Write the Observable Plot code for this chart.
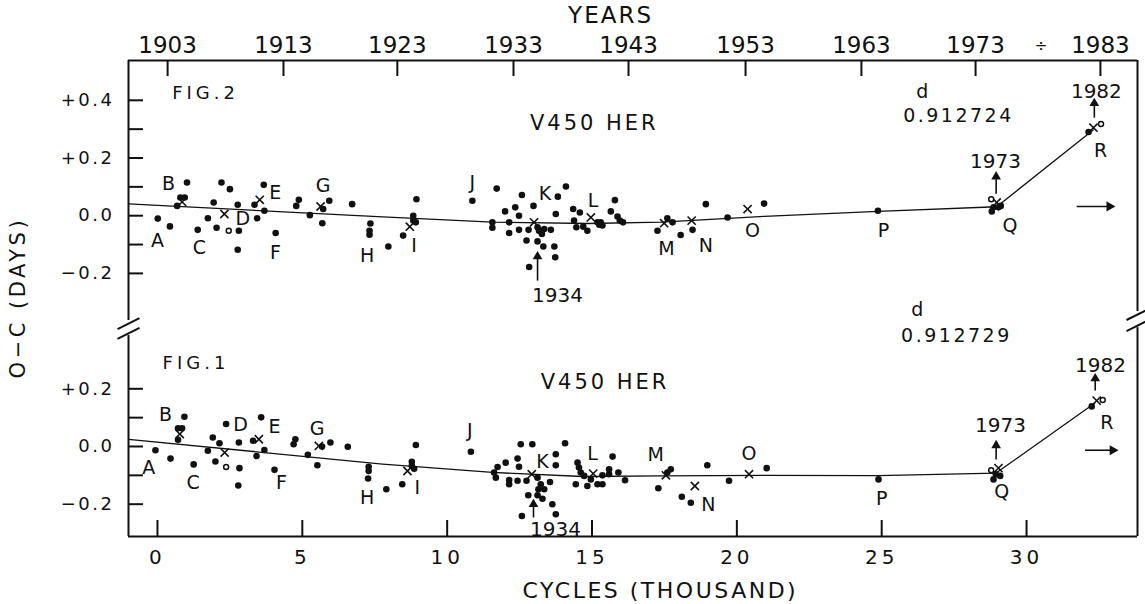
<!DOCTYPE html>
<html><head><meta charset="utf-8">
<script src="https://cdn.jsdelivr.net/npm/d3@7"></script>
<script src="https://cdn.jsdelivr.net/npm/@observablehq/plot@0.6"></script>
<style>
html,body{margin:0;padding:0;background:#fff;}
#chart svg{display:block;background:#fff;}
</style></head><body><div id="chart"></div>
<script>
// ---------- DATA (cycles in thousands, O-C in days) ----------
const OFFSET = 0.8; // Fig. 2 panel is drawn 0.8 units above Fig. 1 on the shared y scale

// Fig. 2 (P = 0.912724 d), upper panel
const fig2Dots = [[0.01,-0.01],[0.43,-0.037],[0.68,0.034],[0.79,0.063],[0.94,0.063],[1.02,0.115],[1.39,-0.049],[1.74,-0.009],[1.94,0.046],[2.04,-0.042],[2.21,0.115],[2.5,0.092],[2.77,0.038],[2.81,-0.052],[2.77,-0.118],[3.35,0.038],[3.44,-0.009],[3.67,0.107],[3.69,0.017],[4.08,-0.06],[4.79,0.034],[4.88,0.055],[5.26,0.002],[5.72,0.023],[5.93,0.052],[5.69,-0.026],[6.72,0.04],[7.35,-0.027],[7.32,-0.052],[7.32,-0.066],
[7.97,-0.107],[8.48,-0.069],[8.83,0.0],[8.83,-0.017],[8.92,-0.023],[8.94,0.057],[10.87,0.052],[11.71,0.094],[11.56,-0.023],[11.56,-0.042],[12.0,0.015],[12.14,-0.023],[12.14,-0.06],[12.35,0.029],[12.48,0.0],[12.48,-0.049],[12.58,0.072],[12.74,-0.086],[12.83,-0.178],[12.81,-0.049],[12.98,0.034],[13.12,-0.04],[13.17,-0.052],[13.12,-0.089],[13.27,-0.063],[13.32,-0.107],[13.35,-0.046],[13.58,-0.049],[13.7,-0.107],[13.73,-0.144],[13.75,0.006],[13.82,0.066],[14.1,0.101],
[14.35,0.023],[14.38,-0.017],[14.58,0.011],[14.46,-0.04],[14.7,-0.038],[14.84,-0.052],[15.19,-0.023],[15.3,-0.023],[15.36,-0.034],[15.25,-0.031],[15.65,0.015],[15.79,0.054],[15.88,-0.003],[15.96,-0.017],[16.07,-0.023],
[17.26,-0.052],[17.6,-0.009],[17.78,-0.023],[18.06,-0.067],[18.47,-0.049],[18.93,0.04],[19.68,-0.006],[20.94,0.042],[24.87,0.017],[28.8,0.015],[28.86,0.029],[29.03,0.029],[29.11,0.034],[32.14,0.29]];
const fig2Cross = [[0.85,0.048],[2.31,0.006],[3.53,0.055],[5.63,0.032],[8.71,-0.038],[13.0,-0.023],[14.96,-0.006],[17.49,-0.026],[18.44,-0.017],[20.37,0.023],[28.97,0.046],[32.31,0.305]];
const fig2Open = [[2.46,-0.052],[28.78,0.057],[32.57,0.318]];
const fig2Line = [[-1.0,0.041],[7.77,-0.004],[11.56,-0.022],[14.9,-0.027],[17.4,-0.022],[20.95,-0.002],[24.87,0.015],[28.97,0.031],[32.3,0.297]];
const fig2Letters = [["A",0.0,-0.087],["B",0.38,0.111],["C",1.45,-0.111],["D",2.95,-0.012],["E",4.07,0.08],["F",4.07,-0.128],["G",5.72,0.104],["H",7.24,-0.139],["I",8.86,-0.104],["J",10.87,0.115],["K",13.38,0.075],["L",15.04,0.052],["M",17.57,-0.114],["N",18.93,-0.104],["O",20.54,-0.052],["P",25.06,-0.052],["Q",29.43,-0.035],["R",32.56,0.225]];

// Fig. 1 (P = 0.912729 d), lower panel
const fig1Dots = [[-0.07,-0.013],[0.45,-0.042],[0.71,0.063],[0.85,0.063],[0.71,0.023],[0.93,0.103],[1.25,-0.062],[1.74,-0.015],[1.91,0.031],[2.0,-0.052],[2.14,0.011],[2.37,0.078],[2.81,0.014],[2.83,-0.075],[2.79,-0.135],[3.3,0.02],[3.42,-0.033],[3.58,0.101],[3.69,-0.012],[4.04,-0.081],[4.7,0.008],[4.76,0.025],[5.19,-0.029],[5.68,0.0],[5.97,0.014],[5.52,-0.065],[6.57,-0.001],[7.29,-0.07],[7.29,-0.085],[7.27,-0.111],
[7.9,-0.148],[8.45,-0.131],[8.78,-0.053],[8.78,-0.067],[8.86,-0.077],[8.92,0.005],[10.82,-0.018],[11.62,-0.09],[11.68,-0.108],[11.74,-0.071],[12.02,-0.056],[12.14,-0.116],[12.14,-0.131],[12.43,-0.042],[12.48,-0.07],[12.43,-0.119],[12.54,0.008],[12.74,-0.119],[12.94,0.008],[12.8,-0.169],[12.58,-0.241],[13.12,-0.108],[13.23,-0.131],[13.15,-0.148],[13.35,-0.148],[13.29,-0.181],[13.12,-0.169],[13.55,-0.123],[13.63,-0.2],[13.75,-0.235],[13.75,-0.027],[13.75,-0.065],[14.07,0.011],
[14.5,-0.056],[14.55,-0.073],[14.44,-0.131],[14.61,-0.09],[14.73,-0.102],[14.84,-0.137],[14.96,-0.114],[15.19,-0.131],[15.36,-0.131],[15.36,-0.1],[15.59,-0.096],[15.59,-0.079],[15.71,-0.035],[15.91,-0.09],[16.14,-0.117],
[17.29,-0.145],[17.72,-0.079],[17.6,-0.09],[18.1,-0.174],[18.41,-0.195],[18.98,-0.065],[19.73,-0.119],[21.03,-0.075],[24.89,-0.114],[28.86,-0.114],[28.94,-0.096],[29.09,-0.102],[32.25,0.139]];
const fig1Cross = [[0.77,0.043],[2.32,-0.021],[3.5,0.025],[5.57,0.002],[8.63,-0.085],[12.92,-0.096],[15.04,-0.094],[17.55,-0.1],[18.55,-0.137],[20.42,-0.096],[29.03,-0.075],[32.42,0.159]];
const fig1Open = [[2.37,-0.071],[28.78,-0.082],[32.63,0.161]];
const fig1Line = [[-1.0,0.025],[7.77,-0.061],[11.56,-0.09],[14.67,-0.104],[17.43,-0.102],[20.95,-0.1],[24.87,-0.101],[28.95,-0.092],[32.35,0.15]];
const fig1Letters = [["A",-0.3,-0.073],["B",0.28,0.108],["C",1.23,-0.125],["D",2.87,0.074],["E",4.04,0.069],["F",4.28,-0.125],["G",5.51,0.062],["H",7.24,-0.177],["I",8.97,-0.142],["J",10.78,0.054],["K",13.29,-0.053],["L",15.02,-0.027],["M",17.2,-0.03],["N",19.02,-0.203],["O",20.42,-0.027],["P",25.0,-0.183],["Q",29.14,-0.159],["R",32.77,0.083]];

// year arrows: [label, cycle, tail, tip, labelCycle, labelValue]
const fig2Epochs = [["1934",13.12,-0.225,-0.131,13.81,-0.277],["1973",28.95,0.076,0.146,28.93,0.188],["1982",32.34,0.34,0.40,32.41,0.43]];
const fig1Epochs = [["1934",12.98,-0.246,-0.19,13.74,-0.288],["1973",28.95,-0.045,0.014,29.1,0.073],["1982",32.37,0.194,0.246,32.55,0.281]];
// horizontal arrows: [from, to, value]
const fig2Right = [[31.73,33.0,0.032]];
const fig1Right = [[32.02,33.11,-0.013]];

// panel annotations: [text, cycle (centre), value, size]
const fig2Notes = [["FIG.2",1.66,0.426,18],["V450 HER",15.08,0.322,21],["d",26.4,0.43,19],["0.912724",27.65,0.347,19]];
const fig1Notes = [["FIG.1",1.33,0.288,18],["V450 HER",15.45,0.222,21],["d",26.23,0.475,19],["0.912729",27.58,0.385,19]];

// axes
const cycleTicks = [0,5,10,15,20,25,30];
const yearTickCycles = [0.35,4.35,8.28,12.29,16.26,20.3,24.3,28.24,32.55];
const yearLabels = ["1903","1913","1923","1933","1943","1953","1963","1973","1983"];
const fig2Major = [0.4,0.2,0,-0.2];
const fig2MajorLabels = ["+0.4","+0.2","0.0","\u22120.2"];
const fig2Minor = [0.3,0.1,-0.1];
const fig1Major = [0.2,0,-0.2];
const fig1MajorLabels = ["+0.2","0.0","\u22120.2"];
const fig1Minor = [0.1,-0.1];

// ---------- BUILD ----------
const X0 = -1.0, X1 = 33.83, Y0 = -0.312, Y1 = 1.338;
const W = 1145, H = 604, mL = 128, mR = 8, mT = 60, mB = 68;
const px = (W - mL - mR) / (X1 - X0), py = (H - mT - mB) / (Y1 - Y0);
const ux = p => p / px, uy = p => p / py; // pixel lengths -> data units

const pts = (arr, off) => arr.map(([c, v]) => ({c, u: v + off}));
const dots = [...pts(fig2Dots, OFFSET), ...pts(fig1Dots, 0)];
const crosses = [...pts(fig2Cross, OFFSET), ...pts(fig1Cross, 0)];
const opens = [...pts(fig2Open, OFFSET), ...pts(fig1Open, 0)];
const letters = [...fig2Letters.map(([t,c,v]) => ({t, c, u: v + OFFSET})), ...fig1Letters.map(([t,c,v]) => ({t, c, u: v}))];
const epochs = [...fig2Epochs.map(([t,c,a,b,lc,lv]) => ({t,c,a:a+OFFSET,b:b+OFFSET,lc,lu:lv+OFFSET})), ...fig1Epochs.map(([t,c,a,b,lc,lv]) => ({t,c,a,b,lc,lu:lv}))];
const rights = [...fig2Right.map(([a,b,v]) => ({a,b,u:v+OFFSET})), ...fig1Right.map(([a,b,v]) => ({a,b,u:v}))];
const notes = [...fig2Notes.map(([t,c,v,s]) => ({t,c,u:v+OFFSET,s})), ...fig1Notes.map(([t,c,v,s]) => ({t,c,u:v,s}))];

const r3 = v => Math.round(v * 1000) / 1000;
const yLabelMap = new Map();
fig2Major.forEach((v,i) => yLabelMap.set(r3(v + OFFSET), fig2MajorLabels[i]));
fig1Major.forEach((v,i) => yLabelMap.set(r3(v), fig1MajorLabels[i]));
const yMajorU = [...fig2Major.map(v => r3(v + OFFSET)), ...fig1Major.map(r3)];
const yAllU = [...yMajorU, ...fig2Minor.map(v => r3(v + OFFSET)), ...fig1Minor.map(r3)];
const yearMap = new Map(yearTickCycles.map((c,i) => [c, yearLabels[i]]));

// axis breaks (value on shared scale)
const breakL = [0.426, 0.392], breakR = [0.4575, 0.419];
const ink = "#111";
const slash = (x, u) => ({x1: x - ux(11), y1: u - uy(5.5), x2: x + ux(11), y2: u + uy(5.5)});

const chart = Plot.plot({
  width: W, height: H,
  marginLeft: mL, marginRight: mR, marginTop: mT, marginBottom: mB,
  x: {domain: [X0, X1], axis: null},
  y: {domain: [Y0, Y1], axis: null},
  style: {fontFamily: "DejaVu Sans", color: ink, background: "#fff", overflow: "visible"},
  marks: [
    // frame with axis breaks
    Plot.ruleY([Y1], {stroke: ink, strokeWidth: 2}),
    Plot.ruleY([Y0], {stroke: ink, strokeWidth: 2}),
    Plot.ruleX([X0], {y1: Y0, y2: breakL[1] - uy(2), stroke: ink, strokeWidth: 2}),
    Plot.ruleX([X0], {y1: breakL[0] + uy(3), y2: Y1, stroke: ink, strokeWidth: 2}),
    Plot.ruleX([X1], {y1: Y0, y2: breakR[1] - uy(2), stroke: ink, strokeWidth: 2}),
    Plot.ruleX([X1], {y1: breakR[0] + uy(3), y2: Y1, stroke: ink, strokeWidth: 2}),
    Plot.link([slash(X0, breakL[0]), slash(X0, breakL[1]), slash(X1, breakR[0]), slash(X1, breakR[1])],
      {x1: "x1", y1: "y1", x2: "x2", y2: "y2", stroke: ink, strokeWidth: 2}),
    // inward ticks
    Plot.ruleY(yAllU, {x1: X0, x2: X0 + ux(15), stroke: ink, strokeWidth: 2}),
    Plot.ruleX(cycleTicks, {y1: Y0, y2: Y0 + uy(16), stroke: ink, strokeWidth: 2}),
    Plot.ruleX(yearTickCycles, {y1: Y1, y2: Y1 - uy(16), stroke: ink, strokeWidth: 2}),
    // axes labels
    Plot.axisY(yMajorU, {anchor: "left", tickSize: 0, tickPadding: 14, fontSize: 18, label: null, tickFormat: d => yLabelMap.get(r3(d))}),
    Plot.axisX(cycleTicks, {anchor: "bottom", tickSize: 0, tickPadding: 13, fontSize: 20, label: null, tickFormat: d => String(d)}),
    Plot.axisX(yearTickCycles, {anchor: "top", tickSize: 0, tickPadding: 8, fontSize: 23, label: null, tickFormat: d => yearMap.get(d)}),
    Plot.text([{t: "\u00f7", c: 30.5}], {x: "c", text: "t", frameAnchor: "top", lineAnchor: "middle", dy: -14, fontSize: 15}),
    Plot.text([{t: "YEARS", c: 15.64}], {x: "c", text: "t", frameAnchor: "top", lineAnchor: "middle", dy: -45, fontSize: 23}),
    Plot.text([{t: "CYCLES (THOUSAND)", c: 17.36}], {x: "c", text: "t", frameAnchor: "bottom", lineAnchor: "middle", dy: 54, fontSize: 22}),
    Plot.text([{t: "O\u2212C (DAYS)", u: 0.516}], {y: "u", text: "t", frameAnchor: "left", textAnchor: "middle", lineAnchor: "middle", dx: -110, rotate: -90, fontSize: 21}),
    // fitted curves
    Plot.line(pts(fig2Line, OFFSET), {x: "c", y: "u", stroke: ink, strokeWidth: 1.3}),
    Plot.line(pts(fig1Line, 0), {x: "c", y: "u", stroke: ink, strokeWidth: 1.3}),
    // observations
    Plot.dot(dots, {x: "c", y: "u", r: 3.3, fill: ink, stroke: "none"}),
    Plot.dot(crosses, {x: "c", y: "u", symbol: "times", r: 3.8, stroke: ink, strokeWidth: 1.6, fill: "none"}),
    Plot.dot(opens, {x: "c", y: "u", r: 2.5, fill: "#fff", stroke: ink, strokeWidth: 1.5}),
    // letters & notes
    Plot.text(letters, {x: "c", y: "u", text: "t", fontSize: 19, fill: ink}),
    Plot.text(notes, {x: "c", y: "u", text: "t", fontSize: "s", fill: ink}),
    // epoch arrows
    Plot.link(epochs, {x1: "c", x2: "c", y1: "a", y2: "b", stroke: ink, strokeWidth: 1.6}),
    Plot.dot(epochs, {x: "c", y: "b", symbol: "triangle", r: 3.6, dy: 3, fill: ink, stroke: "none"}),
    Plot.text(epochs, {x: "lc", y: "lu", text: "t", fontSize: 20, fill: ink}),
    Plot.link(rights, {x1: "a", x2: "b", y1: "u", y2: "u", stroke: ink, strokeWidth: 1.6}),
    Plot.dot(rights, {x: "b", y: "u", symbol: "triangle", r: 3.8, rotate: 90, dx: -4, fill: ink, stroke: "none"})
  ]
});

// letter spacing to mimic the wide drafting lettering
const spacingRules = [
  [/^[+\u2212]?0\.\d$/, 2.5], [/^\d{1,2}$/, 4], [/^CYCLES/, 2.5], [/^YEARS$/, 2],
  [/^V450/, 3], [/^FIG/, 4], [/^0\.9127/, 2.5], [/^O\u2212C/, 3.5]
];
d3.select(chart).selectAll("text").each(function() {
  const t = this.textContent;
  for (const [re, s] of spacingRules) if (re.test(t)) { this.setAttribute("letter-spacing", s); break; }
});
document.getElementById("chart").appendChild(chart);
</script>
</body></html>
